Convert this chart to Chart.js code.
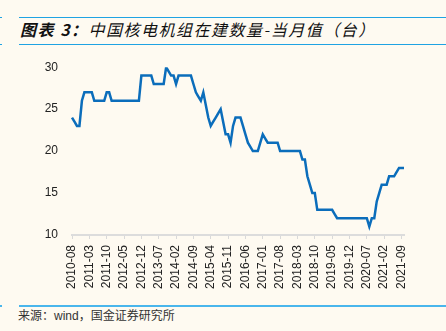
<!DOCTYPE html>
<html>
<head>
<meta charset="utf-8">
<script src="https://cdn.jsdelivr.net/npm/chart.js@4.4.1/dist/chart.umd.min.js"></script>
<style>
    html, body { margin: 0; padding: 0; }
    body { width: 446px; height: 331px; background: #fefaf1; position: relative; overflow: hidden; font-family: "Liberation Sans", Arial, sans-serif; }
    .rule { position: absolute; left: 19px; right: 0; background: #1fa3e3; }
    .stub { position: absolute; left: 0; width: 2px; background: #1fa3e3; }
    #title { position: absolute; left: 20px; top: 19px; font-family: "Noto Sans CJK SC", sans-serif; font-size: 16px; font-style: italic; color: #111; letter-spacing: 1.5px; white-space: nowrap; line-height: 20px; }
    #title b { font-weight: bold; }
    #source { position: absolute; left: 18px; top: 308px; font-family: "Liberation Sans", "Noto Sans CJK SC", sans-serif; font-size: 12px; color: #333; white-space: nowrap; line-height: 16px; }
    #chartBox { position: absolute; left: 0; top: 46px; width: 446px; height: 256px; }
</style>
</head>
<body>
<div class="stub" style="top:17px;height:1px"></div>
<div class="rule" style="top:17px;height:1px"></div>
<div id="title"><b>图表 3：</b>中国核电机组在建数量-当月值（台）</div>
<div class="stub" style="top:44px;height:1px"></div>
<div class="rule" style="top:44px;height:1px"></div>
<div id="chartBox"><canvas id="nuclearChart"></canvas></div>
<div class="stub" style="top:305px;height:2px;background:#4ab6ec"></div>
<div class="rule" style="top:305px;height:2px;background:#4ab6ec"></div>
<div id="source">来源：wind，国金证券研究所</div>

<script>
// --- data ---
const startYear = 2010, startMonth = 8, monthCount = 135;
const labelStep = 7;

// units under construction, monthly
const underConstruction = [
    24, 23.5, 23, 23, 26, 27, 27, 27, 27, 26,
    26, 26, 26, 26, 27, 27, 26, 26, 26, 26,
    26, 26, 26, 26, 26, 26, 26, 26, 29, 29,
    29, 29, 29, 28, 28, 28, 28, 28, 30, 29.5,
    29, 29, 28, 29, 29, 29, 29, 29, 29, 28,
    27, 26.5, 26, 27, 25.5, 24, 23, 23.5, 24, 24.5,
    25, 23.5, 22, 22, 21, 23, 24, 24, 24, 23,
    22, 21, 20.5, 20, 20, 20, 21, 22, 21.5, 21,
    21, 21, 21, 21, 20, 20, 20, 20, 20, 20,
    20, 20, 20, 19, 19, 17, 16, 15, 15, 13,
    13, 13, 13, 13, 13, 13, 12.5, 12, 12, 12,
    12, 12, 12, 12, 12, 12, 12, 12, 12, 12,
    11, 12, 12, 14, 15, 16, 16, 16, 17, 17,
    17, 17.5, 18, 18, 18
];

const yTicks = [10, 15, 20, 25, 30];

// month labels: 2010-08 ... 2021-10
const months = [];
for (let i = 0; i < monthCount; i++) {
    const m = startMonth - 1 + i;
    const y = startYear + Math.floor(m / 12);
    const mm = (m % 12) + 1;
    months.push(y + '-' + (mm < 10 ? '0' + mm : mm));
}

const tickFont = { family: '"Liberation Sans", Arial, sans-serif', size: 12 };

new Chart(document.getElementById('nuclearChart'), {
    type: 'line',
    data: {
        labels: months,
        datasets: [{
            data: underConstruction,
            borderColor: '#0b6dbb',
            borderWidth: 2.5,
            pointRadius: 0,
            tension: 0,
            fill: false
        }]
    },
    options: {
        responsive: true,
        maintainAspectRatio: false,
        animation: false,
        layout: { padding: { top: 11, right: 42, left: 0, bottom: 0 } },
        plugins: { legend: { display: false }, tooltip: { enabled: false } },
        scales: {
            x: {
                grid: { drawOnChartArea: false, drawTicks: true, tickLength: 4, color: '#d9d9d9', lineWidth: 1 },
                border: { display: true, color: '#dcdcdc', width: 2 },
                ticks: {
                    autoSkip: false,
                    maxRotation: 90,
                    minRotation: 90,
                    padding: 6,
                    color: '#222',
                    font: tickFont
                },
                afterBuildTicks: (axis) => {
                    axis.ticks = axis.ticks.filter(t => t.value % labelStep === 0);
                },
                afterFit: (scale) => { scale.height = 67; }
            },
            y: {
                min: yTicks[0],
                max: yTicks[yTicks.length - 1],
                grid: { display: false, drawTicks: false },
                border: { display: false },
                ticks: {
                    stepSize: 5,
                    padding: 14,
                    color: '#222',
                    font: tickFont
                },
                afterFit: (scale) => { scale.width = 72; }
            }
        }
    }
});
</script>
</body>
</html>
